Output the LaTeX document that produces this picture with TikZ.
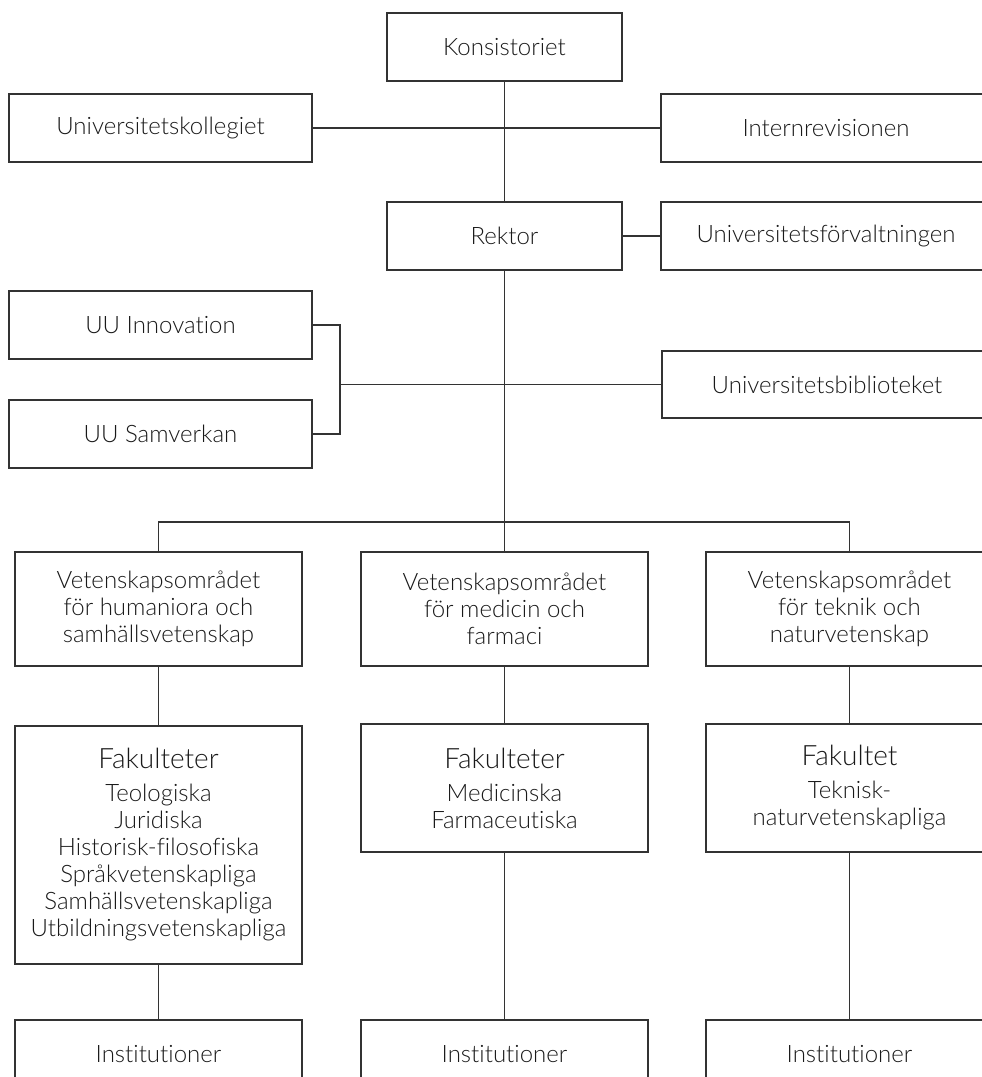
\documentclass[tikz,border=0pt]{standalone}
\usepackage{fontspec}
\setmainfont{Lato}[UprightFont=* Light, Ligatures=NoCommon]
\begin{document}
\begin{tikzpicture}[x=1pt,y=-1pt,
  box/.style={draw=black!80, line width=1.3pt, text=black!90, align=center,
    inner sep=0pt, font=\fontsize{24}{27}\selectfont},
  conn/.style={draw=black!80, line width=1.3pt}]
\useasboundingbox (0,0) rectangle (982,1077);
\clip (0,0) rectangle (982,1077);
\newcommand{\hd}[1]{{\fontsize{28}{30}\selectfont #1}\\[6pt]}
% top
\node[box, minimum width=235pt, minimum height=68pt] (kons) at (504.5,47) {Konsistoriet};
\node[box, minimum width=303pt, minimum height=68pt] (koll) at (160.5,128) {Universitetskollegiet};
\node[box, minimum width=330pt, minimum height=68pt] (intern) at (826,128) {Internrevisionen};
\node[box, minimum width=235pt, minimum height=68pt] (rektor) at (504.5,236) {Rektor};
\node[box, minimum width=330pt, minimum height=68pt] (forv) at (826,236) {Universitetsförvaltningen};
\node[box, minimum width=303pt, minimum height=68pt] (innov) at (160.5,325) {UU Innovation};
\node[box, minimum width=303pt, minimum height=68pt] (samv) at (160.5,434) {UU Samverkan};
\node[box, minimum width=330pt, minimum height=67pt] (bibl) at (827,384.5) {Universitetsbiblioteket};
% areas
\node[box, minimum width=287pt, minimum height=114pt] (vet1) at (158.5,609) {Vetenskapsområdet\\för humaniora och\\samhällsvetenskap};
\node[box, minimum width=287pt, minimum height=114pt] (vet2) at (504.5,609) {Vetenskapsområdet\\för medicin och\\farmaci};
\node[box, minimum width=287pt, minimum height=114pt] (vet3) at (849.5,609) {Vetenskapsområdet\\för teknik och\\naturvetenskap};
% faculties
\node[box, minimum width=287pt, minimum height=238pt] (fak1) at (158.5,845) {\hd{Fakulteter}Teologiska\\Juridiska\\Historisk-filosofiska\\Språkvetenskapliga\\Samhällsvetenskapliga\\Utbildningsvetenskapliga};
\node[box, minimum width=287pt, minimum height=128pt] (fak2) at (504.5,788) {\hd{Fakulteter}Medicinska\\Farmaceutiska};
\node[box, minimum width=287pt, minimum height=128pt] (fak3) at (849.5,788) {\hd{Fakultet}Teknisk-\\naturvetenskapliga};
% departments
\node[box, minimum width=287pt, minimum height=68pt] (inst1) at (158.5,1054) {Institutioner};
\node[box, minimum width=287pt, minimum height=68pt] (inst2) at (504.5,1054) {Institutioner};
\node[box, minimum width=287pt, minimum height=68pt] (inst3) at (849.5,1054) {Institutioner};
% connectors
\coordinate (bus) at (504.5,522);
\coordinate (brk) at (340,384.5);
\draw[conn] (kons) -- (rektor);
\draw[conn] (koll) -- (intern);
\draw[conn] (rektor) -- (forv);
\draw[conn] (rektor) -- (vet2);
\draw[conn] (vet1.north) |- (bus) -| (vet3.north);
\draw[conn] (innov.east) -| (brk) |- (samv.east);
\draw[conn] (brk) -- (bibl.west);
\draw[conn] (vet1) -- (fak1);
\draw[conn] (vet2) -- (fak2);
\draw[conn] (vet3) -- (fak3);
\draw[conn] (fak1) -- (inst1);
\draw[conn] (fak2) -- (inst2);
\draw[conn] (fak3) -- (inst3);
\end{tikzpicture}
\end{document}
